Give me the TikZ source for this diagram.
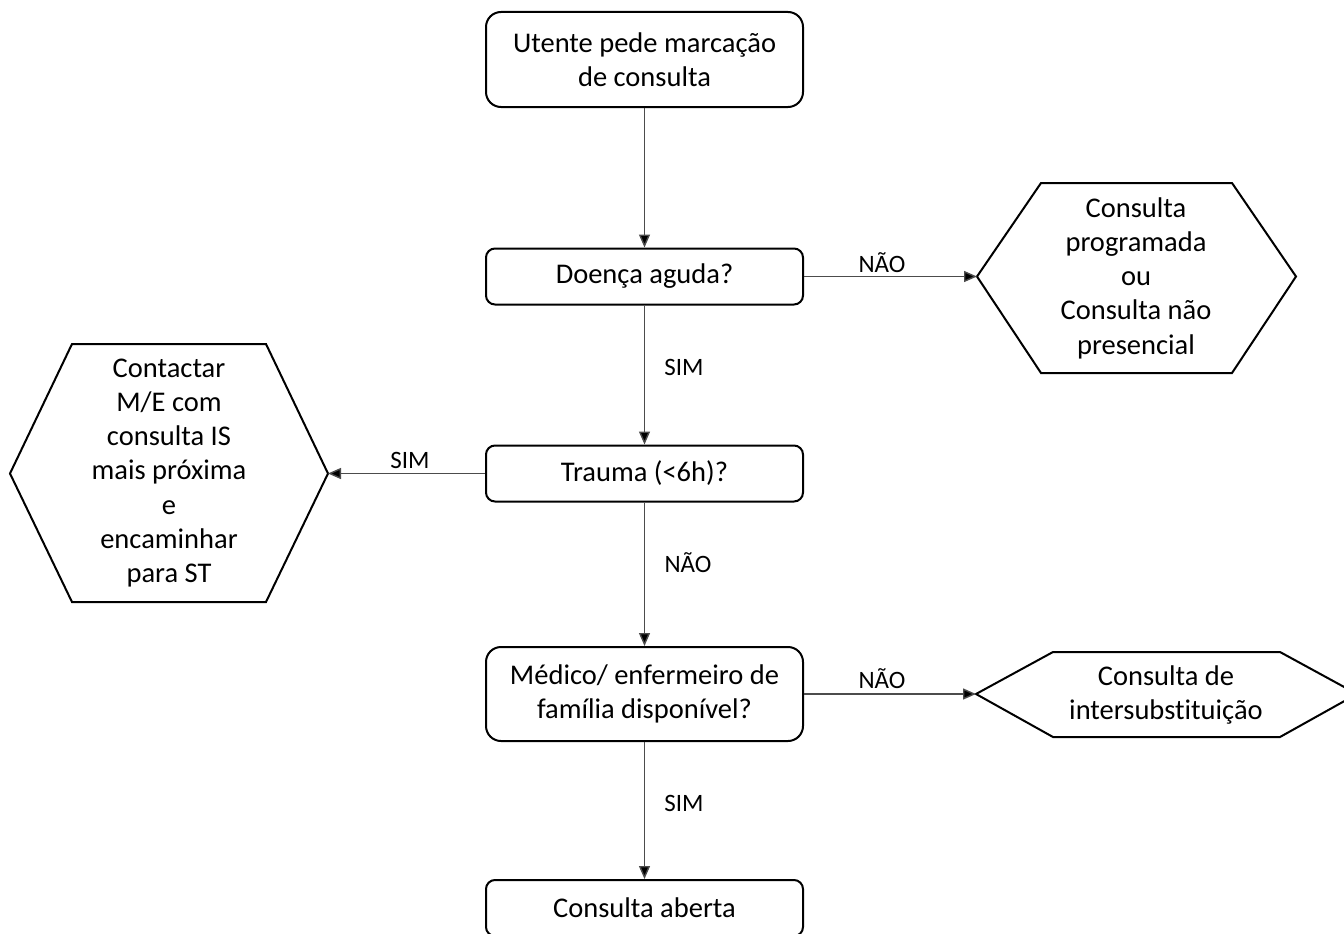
\documentclass[tikz,border=0pt]{standalone}
\usepackage{fontspec}
\setmainfont{Carlito}[Ligatures=NoCommon]
\usetikzlibrary{arrows.meta}
\tikzset{
  x=1pt, y=-1pt,
  box/.style={draw=black, line width=2pt, minimum width=317pt, align=center, inner sep=0pt,
    font=\fontsize{28.5}{33.5}\selectfont},
  txt/.style={align=center, inner sep=0pt, font=\fontsize{28.5}{34.2}\selectfont},
  hexline/.style={draw=black, line width=2pt, line join=miter},
  conn/.style={draw=black!70, line width=1.4pt, -{Triangle[length=13pt,width=11pt,fill=black]}},
  lbl/.style={inner sep=0pt, font=\fontsize{25}{30}\selectfont}
}
\begin{document}
\begin{tikzpicture}
\clip (0,0) rectangle (1344,934);
\fill[white] (0,0) rectangle (1344,934);

% boxes
\node[box, rounded corners=15pt, minimum height=95pt] (b1) at (644.5,59.5) {Utente pede marcação\\de consulta};
\node[box, rounded corners=9pt, minimum height=56pt] (b2) at (644.5,276.5) {Doença aguda?};
\node[box, rounded corners=9pt, minimum height=56pt] (b3) at (644.5,473.5) {Trauma (<6h)?};
\node[box, rounded corners=15pt, minimum height=94pt] (b4) at (644.5,694) {Médico/ enfermeiro de\\família disponível?};
\node[box, rounded corners=9pt, minimum height=56pt] (b5) at (644.5,908) {Consulta aberta};

% hexagon 1 (right top)
\coordinate (h1) at (977,276.5);
\draw[hexline] (h1) -- (1041,183) -- (1232,183) -- (1296,276.5) -- (1232,373) -- (1041,373) -- cycle;
\node[txt] (t1) at (1136,278) {Consulta\\programada\\ou\\Consulta não\\presencial};

% hexagon 2 (left)
\coordinate (h2) at (328,473.5);
\draw[hexline] (h2) -- (266,344) -- (72,344) -- (10,473.5) -- (72,602) -- (266,602) -- cycle;
\node[txt] (t2) at (169,473) {Contactar\\M/E com\\consulta IS\\mais próxima\\e\\encaminhar\\para ST};

% hexagon 3 (right bottom)
\coordinate (h3) at (976,694);
\draw[hexline] (h3) -- (1053,652) -- (1280,652) -- (1357,694) -- (1280,737) -- (1053,737) -- cycle;
\node[txt] (t3) at (1166,695) {Consulta de\\intersubstituição};

% connectors
\draw[conn] (b1.south) -- (b2.north);
\draw[conn] (b2.south) -- (b3.north);
\draw[conn] (b3.south) -- (b4.north);
\draw[conn] (b4.south) -- (b5.north);
\draw[conn] (b2.east) -- (h1);
\draw[conn] (b3.west) -- (h2);
\draw[conn] (b4.east) -- (h3);

% labels
\node[lbl] (l1) at (882,263) {NÃO};
\node[lbl] (l2) at (684,367) {SIM};
\node[lbl] (l3) at (410,460) {SIM};
\node[lbl] (l4) at (688,563) {NÃO};
\node[lbl] (l5) at (882,679) {NÃO};
\node[lbl] (l6) at (684,803) {SIM};
\end{tikzpicture}
\end{document}
